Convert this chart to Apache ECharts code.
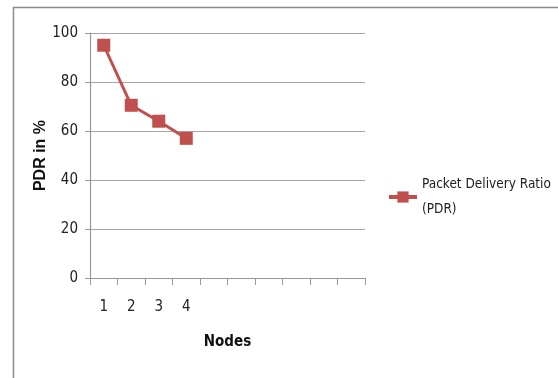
<!DOCTYPE html>
<html><head><meta charset="utf-8">
<script src="https://cdn.jsdelivr.net/npm/echarts@6/dist/echarts.min.js"></script>
<style>html,body{margin:0;padding:0;background:#fff}#c{width:558px;height:378px}</style>
</head><body><div id="c"></div>
<script>
var categories = ['1','2','3','4','','','','','',''];
var pdrValues = [95, 70.5, 64, 57];
var seriesName = 'Packet Delivery Ratio\n(PDR)';
var yTicks = [0, 20, 40, 60, 80, 100];

var font = "'DejaVu Sans Condensed', 'Liberation Sans', sans-serif";
var chart = echarts.init(document.getElementById('c'), null, {renderer: 'canvas'});
chart.setOption({
  animation: false,
  backgroundColor: '#fff',
  graphic: [{
    type: 'rect', shape: {x: 13.5, y: 7.5, width: 560, height: 380},
    style: {fill: 'none', stroke: '#8c8c8c', lineWidth: 1.5}, silent: true, z: -10
  }],
  grid: {left: 90, right: 193, top: 33, bottom: 100, containLabel: false},
  legend: {
    show: true, left: 387, top: 172, orient: 'vertical', padding: 0,
    itemWidth: 28, itemHeight: 14,
    lineStyle: {width: 4},
    textStyle: {fontFamily: font, fontSize: 13.5, color: '#222', lineHeight: 25},
    data: [seriesName]
  },
  xAxis: {
    type: 'category', data: categories, boundaryGap: true,
    axisLine: {lineStyle: {color: '#999', width: 1.2}},
    axisTick: {show: true, alignWithLabel: false, length: 7, lineStyle: {color: '#999'}},
    axisLabel: {fontFamily: font, fontSize: 15, color: '#222', margin: 22, interval: 0},
    name: 'Nodes', nameLocation: 'middle', nameGap: 57,
    nameTextStyle: {fontFamily: font, fontSize: 15, fontWeight: 'bold', color: '#111'}
  },
  yAxis: {
    type: 'value', min: yTicks[0], max: yTicks[yTicks.length - 1], interval: 20,
    axisLine: {show: true, lineStyle: {color: '#999', width: 1.2}},
    axisTick: {show: true, length: 5, lineStyle: {color: '#999'}},
    axisLabel: {fontFamily: font, fontSize: 15, color: '#222', margin: 12},
    splitLine: {lineStyle: {color: '#a6a6a6', width: 1.2}},
    name: 'PDR in %', nameLocation: 'middle', nameGap: 40, nameRotate: 90,
    nameTextStyle: {fontFamily: "'Liberation Sans', sans-serif", fontSize: 16, fontWeight: 'bold', color: '#111'}
  },
  series: [{
    name: seriesName, type: 'line', data: pdrValues,
    symbol: 'rect', symbolSize: 13,
    lineStyle: {color: '#C0504D', width: 3},
    itemStyle: {color: '#C0504D'}
  }]
});
</script></body></html>
